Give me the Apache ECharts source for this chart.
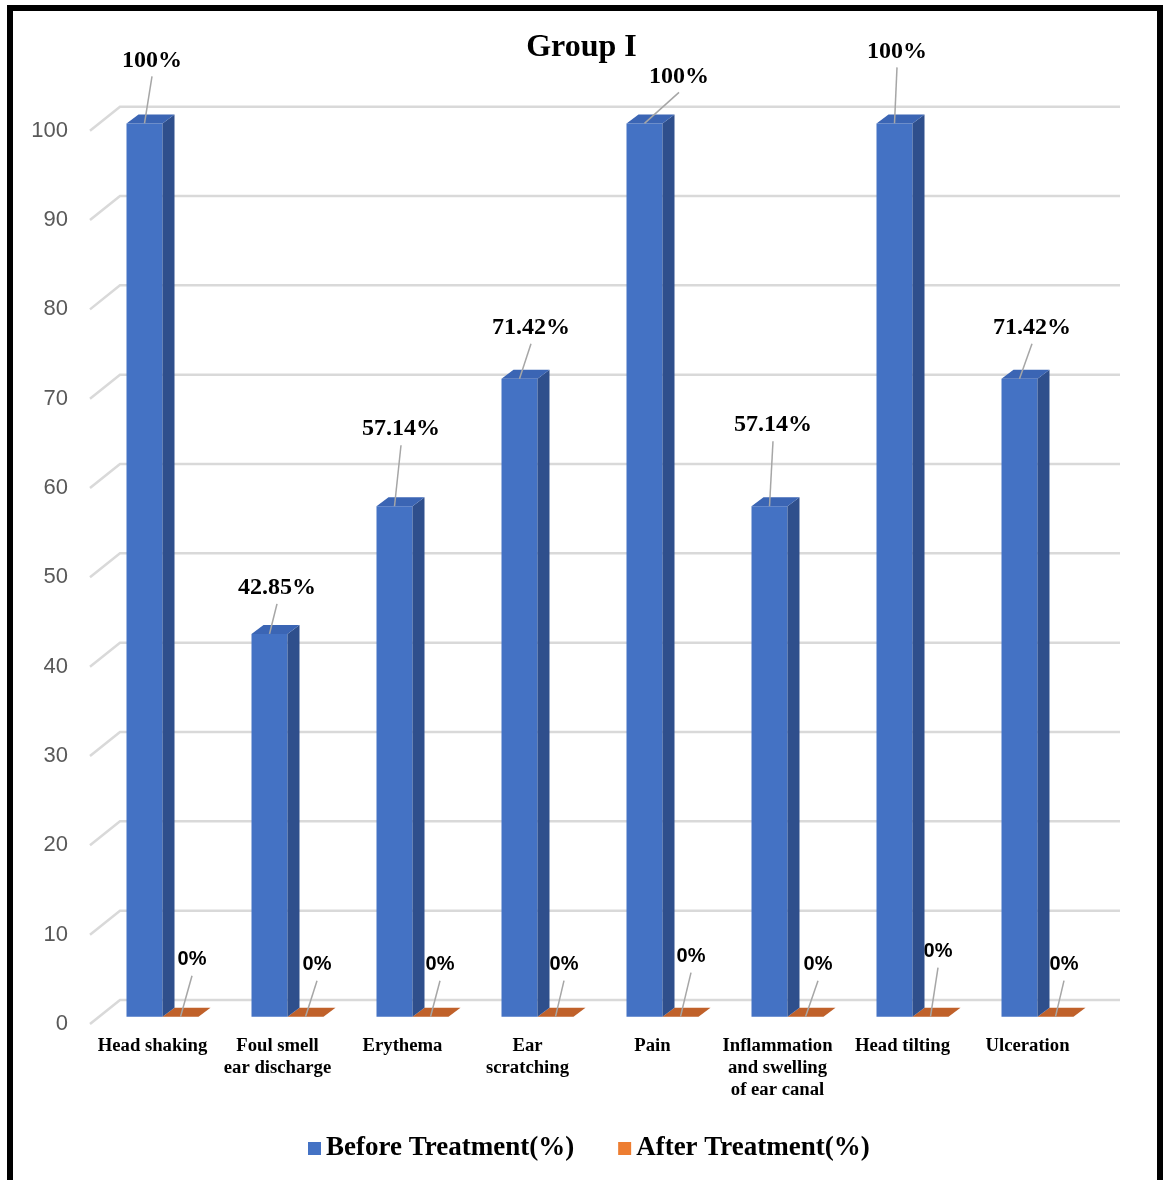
<!DOCTYPE html>
<html>
<head>
	<meta charset="utf-8" />
	<title>Group I</title>
	<script src="https://cdn.jsdelivr.net/npm/echarts@6/dist/echarts.min.js"></script>
	<style>
		html, body { margin: 0; padding: 0; background: #fff; }
		#chart { width: 1163px; height: 1180px; }
	</style>
</head>
<body>
	<div id="chart"></div>
	<script type="text/javascript">
		// ---- data ----
		var categories = ['Head shaking', 'Foul smell\near discharge', 'Erythema', 'Ear\nscratching', 'Pain',
			'Inflammation\nand swelling\nof ear canal', 'Head tilting', 'Ulceration'];
		var beforeValues = [100, 42.85, 57.14, 71.42, 100, 57.14, 100, 71.42];
		var afterValues = [0, 0, 0, 0, 0, 0, 0, 0];
		var yTicks = [0, 10, 20, 30, 40, 50, 60, 70, 80, 90, 100];

		// label placement (dragged labels in the original): [dx, lift]
		var beforeLabelPos = [[7.5, 63], [7.5, 46], [6.5, 77], [11.5, 51], [34.5, 47], [3.5, 81], [2.5, 72], [12.5, 51]];
		var afterLabelPos = [[11.5, 57], [11.5, 52], [9.5, 52], [8.5, 52], [10.5, 60], [12.5, 52], [7.5, 65], [8.5, 52]];

		// 3d look
		var BAR_W = 36, DEPTH_X = 12, DEPTH_Y = -9;
		var BACK_X = 30, BACK_Y = -24;     // back wall offset from axis plane
		var MID_X = 10, MID_Y = -7.3;      // bars sit between front and back

		var dom = document.getElementById('chart');
		var myChart = echarts.init(dom, null, { renderer: 'canvas' });

		function gridItem(params, api) {
			var cs = params.coordSys;
			var y = api.coord([0, api.value(0)])[1];
			return {
				type: 'polyline',
				shape: { points: [[cs.x, y], [cs.x + BACK_X, y + BACK_Y], [cs.x + cs.width + BACK_X, y + BACK_Y]] },
				style: { stroke: '#D9D9D9', lineWidth: 2.5, fill: null }
			};
		}

		function makeBar(side, front, sideCol, topCol, labelPos, labelFont) {
			return function (params, api) {
				var i = api.value(0), v = api.value(1);
				var base = api.coord([i, 0]);
				var top = api.coord([i, v]);
				var cx = base[0] + MID_X;
				var x0 = side === 0 ? cx - BAR_W : cx;
				var x1 = x0 + BAR_W;
				var yb = base[1] + MID_Y;
				var yt = top[1] + MID_Y;
				var children = [];
				if (yb - yt > 0.5) {
					children.push({ type: 'rect', shape: { x: x0, y: yt, width: BAR_W, height: yb - yt }, style: { fill: front } });
					children.push({
						type: 'polygon',
						shape: { points: [[x1, yt], [x1 + DEPTH_X, yt + DEPTH_Y], [x1 + DEPTH_X, yb + DEPTH_Y], [x1, yb]] },
						style: { fill: sideCol }
					});
				}
				children.push({
					type: 'polygon',
					shape: { points: [[x0, yt], [x0 + DEPTH_X, yt + DEPTH_Y], [x1 + DEPTH_X, yt + DEPTH_Y], [x1, yt]] },
					style: { fill: topCol }
				});
				var mx = (x0 + x1) / 2;
				var p = labelPos[i];
				var lx = mx + p[0], ly = yt - p[1];
				children.push({
					type: 'line',
					shape: { x1: mx, y1: yt, x2: lx, y2: ly + 16 },
					style: { stroke: '#A6A6A6', lineWidth: 1.5 }
				});
				children.push({
					type: 'text',
					style: {
						x: lx, y: ly, text: v + '%', font: labelFont, fill: '#000',
						align: 'center', verticalAlign: 'middle'
					}
				});
				return { type: 'group', children: children };
			};
		}

		var option = {
			animation: false,
			backgroundColor: '#fff',
			title: {
				text: 'Group I',
				left: 'center',
				top: 32,
				padding: 0,
				textStyle: { fontFamily: 'Liberation Serif', fontWeight: 'bold', fontSize: 32, color: '#000' }
			},
			legend: {
				left: 303,
				top: 1130,
				icon: 'rect',
				itemWidth: 13,
				itemHeight: 13,
				itemGap: 44,
				textStyle: { fontFamily: 'Liberation Serif', fontWeight: 'bold', fontSize: 27, color: '#000' },
				data: [
					{ name: 'Before Treatment(%)', itemStyle: { color: '#4472C4' } },
					{ name: 'After Treatment(%)', itemStyle: { color: '#ED7D31' } }
				]
			},
			graphic: [{
				type: 'rect',
				shape: { x: 10, y: 8, width: 1150, height: 1250 },
				style: { fill: null, stroke: '#000', lineWidth: 6 },
				z: 100
			}],
			grid: { left: 90, right: 73, top: 130.7, bottom: 156 },
			xAxis: {
				type: 'category',
				data: categories,
				axisLine: { show: false },
				axisTick: { show: false },
				axisLabel: {
					margin: 11,
					fontFamily: 'Liberation Serif',
					fontWeight: 'bold',
					fontSize: 18.7,
					lineHeight: 22,
					color: '#000',
					interval: 0
				}
			},
			yAxis: {
				type: 'value',
				min: 0,
				max: 100,
				interval: 10,
				axisLine: { show: false },
				axisTick: { show: false },
				splitLine: { show: false },
				axisLabel: { margin: 22, fontFamily: 'Liberation Sans', fontSize: 22, color: '#595959' }
			},
			series: [
				{
					name: 'grid',
					type: 'custom',
					z: 1,
					silent: true,
					renderItem: gridItem,
					data: yTicks.map(function (t) { return [t]; }),
					encode: { y: 0 }
				},
				{
					name: 'Before Treatment(%)',
					type: 'custom',
					z: 3,
					itemStyle: { color: '#4472C4' },
					renderItem: makeBar(0, '#4472C4', '#2F4F8C', '#3B65B4', beforeLabelPos, 'bold 24px "Liberation Serif"'),
					data: beforeValues.map(function (v, i) { return [i, v]; }),
					encode: { x: 0, y: 1 }
				},
				{
					name: 'After Treatment(%)',
					type: 'custom',
					z: 2,
					itemStyle: { color: '#ED7D31' },
					renderItem: makeBar(1, '#ED7D31', '#B45A22', '#C0612A', afterLabelPos, 'bold 20px "Liberation Sans"'),
					data: afterValues.map(function (v, i) { return [i, v]; }),
					encode: { x: 0, y: 1 }
				}
			]
		};

		myChart.setOption(option);
		window.addEventListener('resize', myChart.resize);
	</script>
</body>
</html>
